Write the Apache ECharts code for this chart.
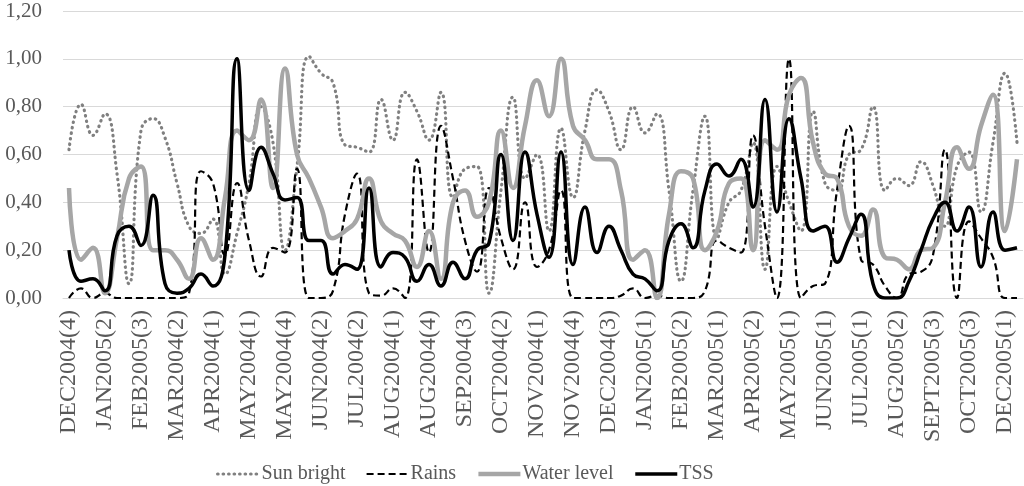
<!DOCTYPE html>
<html>
<head>
<meta charset="utf-8">
<script src="https://cdn.jsdelivr.net/npm/echarts@6/dist/echarts.min.js"></script>
<style>
html,body{margin:0;padding:0;background:#fff;}
#chart{width:1024px;height:486px;}
</style>
</head>
<body>
<div id="chart"></div>
<script>
// Tick labels shown on the x axis (one every third week)
const tickLabels = ['DEC2004(4)','JAN2005(2)','FEB2005(3)','MAR2004(2)','APR2004(1)','MAY2004(1)','MAY2004(4)','JUN2004(2)','JUL2004(2)','AUG2004(1)','AUG2004(4)','SEP2004(3)','OCT2004(2)','NOV2004(1)','NOV2004(4)','DEC2004(3)','JAN2005(1)','FEB2005(2)','MAR2005(1)','APR2005(2)','MAY2005(1)','JUN2005(1)','JUL2005(1)','AUG2005(2)','SEPT2005(3)','OCT2005(3)','DEC2005(1)'];
const categoryCount = 80;

const sunBright = [0.62,0.81,0.68,0.77,0.52,0.06,0.70,0.75,0.67,0.48,
  0.30,0.27,0.33,0.10,0.27,0.48,0.80,0.65,0.20,0.55,
  1.01,0.94,0.90,0.64,0.63,0.61,0.83,0.66,0.86,0.78,
  0.66,0.86,0.42,0.54,0.55,0.02,0.45,0.84,0.50,0.60,
  0.28,0.71,0.42,0.70,0.87,0.78,0.62,0.80,0.69,0.77,
  0.45,0.07,0.45,0.76,0.25,0.40,0.45,0.65,0.12,0.55,
  0.40,0.28,0.78,0.48,0.45,0.60,0.62,0.80,0.45,0.50,
  0.47,0.57,0.47,0.30,0.55,0.61,0.36,0.65,0.94,0.65];

const rains = [0.00,0.04,0.00,0.02,0.00,0.00,0.00,0.00,0.00,0.00,
  0.02,0.53,0.48,0.18,0.48,0.24,0.09,0.21,0.19,0.54,
  0.00,0.00,0.03,0.35,0.52,0.02,0.01,0.04,0.00,0.58,
  0.19,0.72,0.50,0.24,0.11,0.46,0.25,0.12,0.40,0.13,
  0.20,0.45,0.00,0.00,0.00,0.00,0.01,0.04,0.00,0.01,
  0.00,0.00,0.00,0.03,0.24,0.21,0.19,0.68,0.30,0.00,
  1.00,0.00,0.05,0.06,0.45,0.72,0.16,0.14,0.05,0.00,
  0.10,0.11,0.18,0.62,0.00,0.32,0.25,0.17,0.00,0.00];

const waterLevel = [0.46,0.16,0.21,0.02,0.25,0.50,0.55,0.20,0.20,0.16,
  0.08,0.25,0.16,0.42,0.70,0.66,0.83,0.46,0.96,0.60,
  0.50,0.38,0.25,0.28,0.33,0.50,0.32,0.27,0.24,0.13,
  0.28,0.08,0.40,0.45,0.34,0.40,0.70,0.46,0.72,0.91,
  0.76,1.00,0.72,0.66,0.58,0.58,0.45,0.16,0.20,0.00,
  0.35,0.53,0.50,0.20,0.28,0.48,0.50,0.20,0.66,0.62,
  0.85,0.92,0.65,0.52,0.50,0.30,0.26,0.37,0.17,0.16,
  0.12,0.20,0.21,0.40,0.63,0.54,0.72,0.85,0.28,0.58];

const tss = [0.20,0.07,0.08,0.03,0.26,0.30,0.22,0.43,0.06,0.02,
  0.04,0.10,0.05,0.18,1.00,0.45,0.63,0.52,0.41,0.42,
  0.24,0.24,0.10,0.14,0.12,0.46,0.13,0.19,0.17,0.07,
  0.14,0.05,0.15,0.08,0.20,0.23,0.60,0.24,0.61,0.35,
  0.17,0.61,0.14,0.38,0.19,0.30,0.20,0.10,0.08,0.03,
  0.24,0.31,0.21,0.45,0.56,0.51,0.58,0.38,0.83,0.36,
  0.75,0.50,0.28,0.30,0.15,0.25,0.35,0.06,0.00,0.00,
  0.07,0.20,0.33,0.40,0.28,0.38,0.13,0.36,0.20,0.21];

const categories = [];
for (let i = 0; i < categoryCount; i++) {
  categories.push(i % 3 === 0 ? tickLabels[i / 3] : '');
}

const textColor = '#595959';
const fontFamily = '"Liberation Serif", "DejaVu Serif", serif';

const sunStyle = { color: '#808080', width: 3.2, type: [0.5, 5], cap: 'round' };
const rainStyle = { color: '#000000', width: 2.2, type: [7, 4] };
const waterStyle = { color: '#a6a6a6', width: 4.5 };
const tssStyle = { color: '#000000', width: 3.5 };

const chart = echarts.init(document.getElementById('chart'));
chart.setOption({
  animation: false,
  backgroundColor: '#ffffff',
  textStyle: { fontFamily: fontFamily },
  grid: { left: 63, right: 1, top: 11, bottom: 188, containLabel: false, outerBoundsMode: 'none' },
  legend: {
    left: 211,
    top: 459,
    itemWidth: 42,
    itemHeight: 14,
    itemGap: 20,
    itemStyle: { opacity: 0, borderWidth: 0 },
    textStyle: { fontFamily: fontFamily, fontSize: 20, color: textColor, padding: [0, 0, 0, -3] },
    data: [
      { name: 'Sun bright', lineStyle: { width: sunStyle.width } },
      { name: 'Rains', lineStyle: { width: rainStyle.width } },
      { name: 'Water level', lineStyle: { width: waterStyle.width } },
      { name: 'TSS', lineStyle: { width: tssStyle.width } }
    ]
  },
  xAxis: {
    type: 'category',
    data: categories,
    boundaryGap: true,
    axisTick: { show: false },
    axisLine: { lineStyle: { color: '#d9d9d9', width: 1 } },
    axisLabel: {
      interval: 2,
      rotate: 90,
      margin: 12,
      fontFamily: fontFamily,
      fontSize: 24,
      color: textColor
    }
  },
  yAxis: {
    type: 'value',
    min: 0,
    max: 1.2,
    interval: 0.2,
    axisLine: { show: false },
    axisTick: { show: false },
    splitLine: { lineStyle: { color: '#d9d9d9', width: 1 } },
    axisLabel: {
      margin: 21,
      fontFamily: fontFamily,
      fontSize: 21,
      color: textColor,
      formatter: function (v) { return v.toFixed(2).replace('.', ','); }
    }
  },
  series: [
    {
      name: 'Sun bright', type: 'line', data: sunBright, smooth: 0.5, symbol: 'none',
      lineStyle: sunStyle, itemStyle: { color: sunStyle.color }
    },
    {
      name: 'Rains', type: 'line', data: rains, smooth: 0.5, symbol: 'none',
      lineStyle: rainStyle, itemStyle: { color: rainStyle.color }
    },
    {
      name: 'Water level', type: 'line', data: waterLevel, smooth: 0.5, symbol: 'none',
      lineStyle: waterStyle, itemStyle: { color: waterStyle.color }
    },
    {
      name: 'TSS', type: 'line', data: tss, smooth: 0.5, symbol: 'none',
      lineStyle: tssStyle, itemStyle: { color: tssStyle.color }
    }
  ]
});
</script>
</body>
</html>
